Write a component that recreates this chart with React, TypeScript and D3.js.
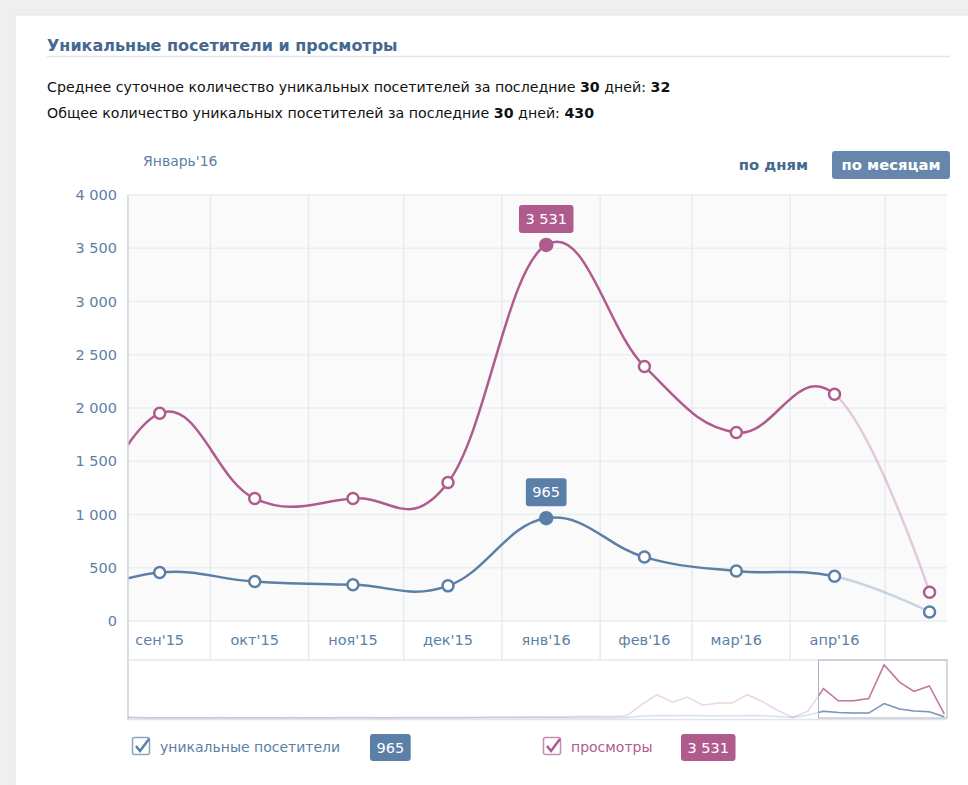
import React, { useRef, useEffect } from 'react';
import * as d3 from 'd3';

// monthly points (plotted on the 15th of each month)
const mainMonths = ['2015-08', '2015-09', '2015-10', '2015-11', '2015-12', '2016-01', '2016-02', '2016-03', '2016-04', '2016-05'];
const views = [450, 1950, 1150, 1150, 1300, 3531, 2390, 1770, 2130, 270];
const visitors = [200, 455, 370, 340, 330, 965, 600, 470, 420, 85];

// older history, only visible in the navigator (Nov'11 .. Jul'15)
const historyStart = '2011-11';
const historyViews = [
  60, 30, 20, 20, 15, 20, 25, 20, 15, 20, 20, 25,
  20, 20, 25, 30, 25, 20, 25, 30, 30, 35, 40, 50,
  60, 70, 90, 100, 80, 90, 110, 120, 100, 150, 900, 1550,
  1050, 1400, 850, 1000, 1000, 1550, 1100, 500, 50,
];
const historyVisitors = [
  10, 5, 5, 5, 5, 5, 5, 5, 5, 5, 5, 5,
  5, 5, 5, 5, 5, 5, 5, 5, 5, 5, 5, 10,
  10, 10, 15, 15, 15, 15, 20, 20, 20, 40, 120, 160,
  150, 160, 150, 150, 140, 170, 150, 100, 30,
];

const tickLabels = ["сен'15", "окт'15", "ноя'15", "дек'15", "янв'16", "фев'16", "мар'16", "апр'16"];
const yTicks = [0, 500, 1000, 1500, 2000, 2500, 3000, 3500, 4000];

const BLUE = '#5b7fa6';
const PINK = '#b05b8e';
const TITLE = '#45688e';
const FONT = "'DejaVu Sans', Tahoma, sans-serif";

const parseMonth = d3.timeParse('%Y-%m');
const mid = (m: string) => d3.timeDay.offset(parseMonth(m) as Date, 14);
const ru = d3.formatLocale({ decimal: ',', thousands: '\u00a0', grouping: [3], currency: ['', ''] });
const fmt = ru.format(',');

export default function App() {
  const svgRef = useRef<SVGSVGElement>(null);

  useEffect(() => {
    const svg = d3.select(svgRef.current);
    svg.selectAll('*').remove();

    // page frame
    svg.append('rect').attr('width', 968).attr('height', 785).attr('fill', '#efefef');
    svg.append('rect').attr('x', 15).attr('y', 15).attr('width', 960).attr('height', 780)
      .attr('fill', '#fff').attr('stroke', '#e1e5ea');

    // header
    svg.append('text').attr('x', 47).attr('y', 51).attr('font-family', FONT)
      .attr('font-size', 16).attr('font-weight', 'bold').attr('fill', TITLE)
      .text('Уникальные посетители и просмотры');
    svg.append('line').attr('x1', 47).attr('x2', 950).attr('y1', 56.5).attr('y2', 56.5)
      .attr('stroke', '#dde4eb').attr('stroke-width', 1.5);

    const stats = [
      ['Среднее суточное количество уникальных посетителей за последние ', '30', ' дней: ', '32'],
      ['Общее количество уникальных посетителей за последние ', '30', ' дней: ', '430'],
    ];
    stats.forEach((parts, i) => {
      const t = svg.append('text').attr('x', 47).attr('y', 92 + i * 26)
        .attr('font-family', FONT).attr('font-size', 14.2).attr('fill', '#111');
      parts.forEach((p, j) => {
        t.append('tspan').attr('font-weight', j % 2 ? 'bold' : 'normal').text(p);
      });
    });

    svg.append('text').attr('x', 143).attr('y', 166).attr('font-family', FONT)
      .attr('font-size', 14).attr('fill', BLUE).text("Январь'16");
    svg.append('text').attr('x', 808).attr('y', 170).attr('text-anchor', 'end')
      .attr('font-family', FONT).attr('font-size', 14.8).attr('font-weight', 'bold')
      .attr('fill', TITLE).text('по дням');
    svg.append('rect').attr('x', 832).attr('y', 151).attr('width', 118).attr('height', 28)
      .attr('rx', 3).attr('fill', '#6686ab');
    svg.append('text').attr('x', 891).attr('y', 170).attr('text-anchor', 'middle')
      .attr('font-family', FONT).attr('font-size', 14.8).attr('font-weight', 'bold')
      .attr('fill', '#fff').text('по месяцам');

    // scales
    const left = 128, right = 947, top = 195, bottom = 621;
    const x = d3.scaleTime().domain([new Date(2015, 8, 5), new Date(2016, 4, 20, 12)]).range([left, right]);
    const y = d3.scaleLinear().domain([0, 4000]).range([bottom, top]);

    const dates = mainMonths.map(mid);
    const monthBounds = d3.timeMonth.range(new Date(2015, 9, 1), new Date(2016, 4, 2));

    // plot background + grid
    svg.append('rect').attr('x', left).attr('y', top).attr('width', right - left)
      .attr('height', bottom - top).attr('fill', '#fafafb');
    svg.append('g').selectAll('line').data(yTicks).join('line')
      .attr('x1', left).attr('x2', right).attr('y1', d => y(d)).attr('y2', d => y(d))
      .attr('stroke', '#e9eef3').attr('stroke-width', 1.5);
    svg.append('g').selectAll('line').data(monthBounds).join('line')
      .attr('x1', d => x(d)).attr('x2', d => x(d)).attr('y1', top).attr('y2', 660)
      .attr('stroke', '#e6ebf1').attr('stroke-width', 1.5);

    svg.append('g').selectAll('text').data(yTicks).join('text')
      .attr('x', 117).attr('y', d => y(d) + 5).attr('text-anchor', 'end')
      .attr('font-family', FONT).attr('font-size', 14.5).attr('fill', BLUE)
      .text(d => fmt(d));

    // x label band
    svg.append('line').attr('x1', left).attr('x2', right).attr('y1', 660).attr('y2', 660)
      .attr('stroke', '#e3e8ee').attr('stroke-width', 1.5);
    svg.append('g').selectAll('text').data(tickLabels).join('text')
      .attr('x', (_d, i) => x(dates[i + 1])).attr('y', 645).attr('text-anchor', 'middle')
      .attr('font-family', FONT).attr('font-size', 14.5).attr('fill', BLUE)
      .text(d => d);

    // clips: solid part up to last complete month, faded after
    const defs = svg.append('defs');
    const lastFull = x(dates[dates.length - 2]);
    defs.append('clipPath').attr('id', 'solid').append('rect')
      .attr('x', left).attr('y', top - 20).attr('width', lastFull - left).attr('height', bottom - top + 40);
    defs.append('clipPath').attr('id', 'faded').append('rect')
      .attr('x', lastFull).attr('y', top - 20).attr('width', right - lastFull).attr('height', bottom - top + 40);

    const curve = d3.curveCardinal.tension(-0.2);
    const series = [
      { values: views, color: PINK },
      { values: visitors, color: BLUE },
    ];
    series.forEach(s => {
      const gen = d3.line<number>().x((_v, i) => x(dates[i])).y(v => y(v)).curve(curve);
      svg.append('path').attr('d', gen(s.values)).attr('fill', 'none')
        .attr('stroke', s.color).attr('stroke-width', 2.5).attr('clip-path', 'url(#solid)');
      svg.append('path').attr('d', gen(s.values)).attr('fill', 'none')
        .attr('stroke', s.color).attr('stroke-opacity', 0.3).attr('stroke-width', 2.5)
        .attr('clip-path', 'url(#faded)');
    });

    const hoverIdx = 5;
    series.forEach(s => {
      svg.append('g').selectAll('circle')
        .data(s.values.map((v, i) => ({ v, i })).filter(d => d.i > 0))
        .join('circle')
        .attr('cx', d => x(dates[d.i])).attr('cy', d => y(d.v))
        .attr('r', d => (d.i === hoverIdx ? 6 : 5.5))
        .attr('fill', d => (d.i === hoverIdx ? s.color : '#fff'))
        .attr('stroke', s.color).attr('stroke-width', 2.5);
    });

    // badge: coloured box sized to its text
    const badge = (cx: number, bottomY: number, h: number, label: string, color: string, anchor: 'middle' | 'start') => {
      const g = svg.append('g');
      const rect = g.append('rect').attr('rx', 3).attr('fill', color);
      const t = g.append('text').attr('font-family', FONT).attr('font-size', 14.5)
        .attr('fill', '#fff').attr('text-anchor', 'middle').text(label);
      const w = (t.node() as SVGTextElement).getComputedTextLength() + 13;
      const bx = anchor === 'middle' ? cx - w / 2 : cx;
      rect.attr('x', bx).attr('y', bottomY - h).attr('width', w).attr('height', h);
      t.attr('x', bx + w / 2).attr('y', bottomY - h / 2 + 5);
    };

    // value tooltips at the hovered month
    series.forEach(s => {
      const v = s.values[hoverIdx];
      badge(x(dates[hoverIdx]), y(v) - 12, 28, fmt(v), s.color, 'middle');
    });

    // left axis line
    svg.append('line').attr('x1', left).attr('x2', left).attr('y1', top).attr('y2', 720)
      .attr('stroke', '#cbd5df').attr('stroke-width', 1.5);

    // navigator
    const nTop = 660, nBottom = 718;
    const nx = d3.scaleTime().domain([new Date(2011, 10, 16), new Date(2016, 4, 20, 12)]).range([left, right]);
    const ny = d3.scaleLinear().domain([0, 3860]).range([nBottom, nTop]);
    const hStart = parseMonth(historyStart) as Date;
    const navDates = historyViews.map((_v, i) => d3.timeDay.offset(d3.timeMonth.offset(hStart, i), 14)).concat(dates);
    const navViews = historyViews.concat(views);
    const navVisitors = historyVisitors.concat(visitors);
    svg.append('line').attr('x1', left).attr('x2', right).attr('y1', 719.5).attr('y2', 719.5)
      .attr('stroke', '#dfe5eb').attr('stroke-width', 1.5);
    const winX0 = nx(x.domain()[0]);
    defs.append('clipPath').attr('id', 'win').append('rect')
      .attr('x', winX0).attr('y', nTop).attr('width', right - winX0).attr('height', nBottom - nTop + 2);
    defs.append('clipPath').attr('id', 'nav').append('rect')
      .attr('x', left).attr('y', nTop).attr('width', right - left).attr('height', nBottom - nTop + 2);
    [
      { values: navViews, color: PINK },
      { values: navVisitors, color: BLUE },
    ].forEach(s => {
      const gen = d3.line<number>().x((_v, i) => nx(navDates[i])).y(v => ny(v));
      svg.append('path').attr('d', gen(s.values)).attr('fill', 'none').attr('stroke', s.color)
        .attr('stroke-opacity', 0.25).attr('stroke-width', 1.5).attr('clip-path', 'url(#nav)');
      svg.append('path').attr('d', gen(s.values)).attr('fill', 'none').attr('stroke', s.color)
        .attr('stroke-opacity', 0.75).attr('stroke-width', 1.5).attr('clip-path', 'url(#win)');
    });
    svg.append('rect').attr('x', winX0).attr('y', nTop).attr('width', right - winX0)
      .attr('height', nBottom - nTop).attr('fill', 'none').attr('stroke', '#a9b4c0');

    // legend
    const legend = [
      { label: 'уникальные посетители', value: 965, color: BLUE, cx: 132, bx: 370 },
      { label: 'просмотры', value: 3531, color: PINK, cx: 543, bx: 681 },
    ];
    legend.forEach(l => {
      const g = svg.append('g');
      g.append('rect').attr('x', l.cx + 0.5).attr('y', 737.5).attr('width', 17).attr('height', 17)
        .attr('rx', 2).attr('fill', '#fff').attr('stroke', l.color).attr('stroke-opacity', 0.7)
        .attr('stroke-width', 1.5);
      g.append('path').attr('d', `M${l.cx + 4},${746} L${l.cx + 8},${751} L${l.cx + 17},${739}`)
        .attr('fill', 'none').attr('stroke', l.color).attr('stroke-width', 2.5);
      g.append('text').attr('x', l.cx + 28).attr('y', 752).attr('font-family', FONT)
        .attr('font-size', 14).attr('fill', l.color).text(l.label);
      badge(l.bx, 761, 27, fmt(l.value), l.color, 'start');
    });
  }, []);

  return (
    <div style={{ position: 'absolute', left: 0, top: 0 }}>
      <svg ref={svgRef} width={968} height={785} style={{ display: 'block' }} />
    </div>
  );
}
